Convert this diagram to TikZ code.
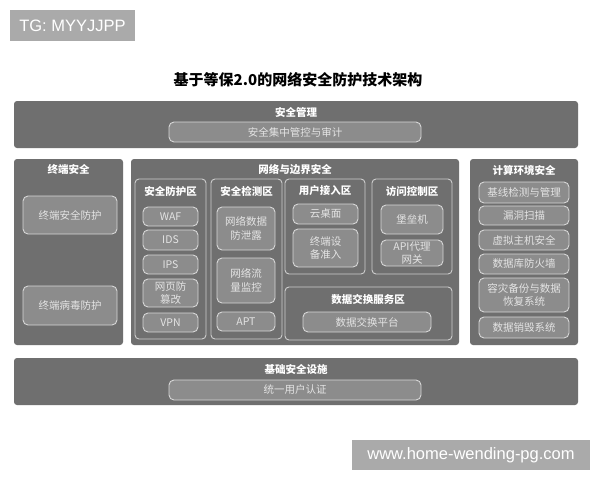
\documentclass[tikz,border=0pt]{standalone}
\usepackage{fontspec}
\setmainfont{Noto Sans CJK SC}
\newfontfamily\latinsans{Liberation Sans}
\definecolor{darkbg}{RGB}{111,111,111}
\definecolor{itemfill}{RGB}{140,140,140}
\definecolor{zoneline}{RGB}{205,205,205}
\definecolor{itemline}{RGB}{215,215,215}
\definecolor{itemtext}{RGB}{228,228,228}
\definecolor{markfill}{RGB}{170,170,170}
\newcommand{\bx}[7]{\node[#6, minimum width={#4-#2}, minimum height={#5-#3}] (#1) at ({(#2+#4)/2},{(#3+#5)/2}) {#7};}
\begin{document}
\begin{tikzpicture}[x=1pt,y=-1pt,
  every node/.style={inner sep=0pt, outer sep=0pt},
  panel/.style={fill=darkbg, rounded corners=3pt},
  zonebox/.style={fill=darkbg, draw=zoneline, line width=0.9pt, rounded corners=4pt},
  itembox/.style={fill=itemfill, draw=itemline, line width=0.9pt, rounded corners=5pt,
     text=itemtext, align=center, font=\fontsize{10.5}{13.5}\selectfont},
  ttl/.style={text=white, font=\bfseries\fontsize{10.5}{12}\selectfont},
  markbox/.style={fill=markfill, text=white, font=\latinsans\fontsize{16.5}{18}\selectfont}
]
\useasboundingbox (0,0) rectangle (600,480);
\fill[white] (0,0) rectangle (600,480);

% watermarks
\bx{tg}{10}{10}{135}{41}{markbox}{TG: MYYJJPP}
\bx{www}{352}{440}{590}{470}{markbox}{www.home-wending-pg.com}

% title
\node[font=\bfseries\fontsize{15}{17}\selectfont] (title) at (298,80) {基于等保2.0的网络安全防护技术架构};

% top bar
\bx{mgmt}{14}{101}{578}{148}{panel}{}
\node[ttl] (mgmtT) at (296,112) {安全管理};
\bx{audit}{169}{122}{421}{142}{itembox}{安全集中管控与审计}

% left column
\bx{term}{14}{159}{123}{345}{panel}{}
\node[ttl] (termT) at (68.5,170) {终端安全};
\bx{termA}{23}{196}{117}{234}{itembox}{终端安全防护}
\bx{termB}{23}{286}{117}{325}{itembox}{终端病毒防护}

% middle column
\bx{net}{131}{159}{459}{345}{panel}{}
\node[ttl] (netT) at (295,170) {网络与边界安全};

\bx{z1}{135}{179}{206}{339}{zonebox}{}
\node[ttl] (z1T) at (170.5,191) {安全防护区};
\bx{waf}{143}{207}{198}{226}{itembox}{WAF}
\bx{ids}{143}{230}{198}{250}{itembox}{IDS}
\bx{ips}{143}{255}{198}{274}{itembox}{IPS}
\bx{tamper}{143}{279}{198}{307}{itembox}{网页防\\篡改}
\bx{vpn}{143}{313}{198}{332}{itembox}{VPN}

\bx{z2}{211}{179}{282}{339}{zonebox}{}
\node[ttl] (z2T) at (246.5,191) {安全检测区};
\bx{dlp}{217}{207}{275}{250}{itembox}{网络数据\\防泄露}
\bx{flow}{217}{258}{275}{303}{itembox}{网络流\\量监控}
\bx{apt}{217}{312}{275}{331}{itembox}{APT}

\bx{z3}{285}{179}{365}{274}{zonebox}{}
\node[ttl] (z3T) at (325,191) {用户接入区};
\bx{vdi}{293}{204}{358}{224}{itembox}{云桌面}
\bx{nac}{293}{229}{358}{267}{itembox}{终端设\\备准入}

\bx{z4}{372}{179}{452}{274}{zonebox}{}
\node[ttl] (z4T) at (412,191) {访问控制区};
\bx{bastion}{381}{205}{443}{234}{itembox}{堡垒机}
\bx{apigw}{381}{240}{443}{266}{itembox}{API代理\\网关}

\bx{z5}{285}{287}{452}{340}{zonebox}{}
\node[ttl] (z5T) at (368,299) {数据交换服务区};
\bx{dex}{303}{312}{431}{332}{itembox}{数据交换平台}

% right column
\bx{comp}{470}{159}{578}{345}{panel}{}
\node[ttl] (compT) at (524,170) {计算环境安全};
\bx{c1}{479}{182}{569}{203}{itembox}{基线检测与管理}
\bx{c2}{479}{206}{569}{225}{itembox}{漏洞扫描}
\bx{c3}{479}{230}{569}{250}{itembox}{虚拟主机安全}
\bx{c4}{479}{254}{569}{274}{itembox}{数据库防火墙}
\bx{c5}{479}{278}{569}{312}{itembox}{容灾备份与数据\\恢复系统}
\bx{c6}{479}{317}{569}{338}{itembox}{数据销毁系统}

% bottom bar
\bx{infra}{14}{358}{578}{405}{panel}{}
\node[ttl] (infraT) at (296,369) {基础安全设施};
\bx{auth}{169}{380}{421}{400}{itembox}{统一用户认证}
\end{tikzpicture}
\end{document}
